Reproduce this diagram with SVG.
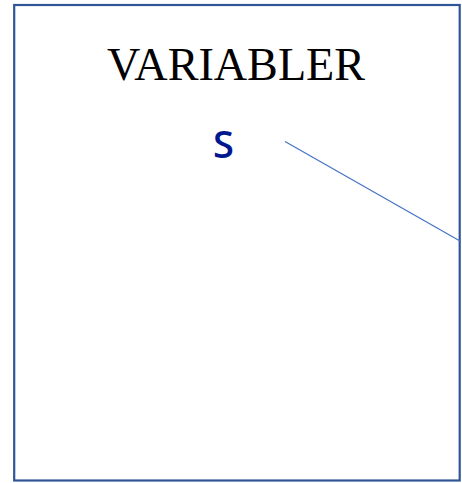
<svg xmlns="http://www.w3.org/2000/svg" width="462" height="483" viewBox="0 0 462 483">
<style>
.frame{fill:#ffffff;stroke:#2F5597;stroke-width:2.2}
.title{font-family:"Liberation Serif",serif;font-size:46px;fill:#000000}
.label{font-family:"Open Sans","DejaVu Sans",sans-serif;font-size:38px;font-weight:600;fill:#00188F}
.conn{stroke:#4472C4;stroke-width:1.2;fill:none}
</style>
<rect width="462" height="483" fill="#ffffff"/>
<g id="frame">
<rect class="frame" x="14.2" y="5" width="445.5" height="475.5"/>
<text class="title" x="236" y="80" text-anchor="middle" textLength="258" lengthAdjust="spacingAndGlyphs">VARIABLER</text>
</g>
<g id="node-s">
<text class="label" x="223.5" y="158" text-anchor="middle">S</text>
</g>
<g id="connectors">
<line class="conn" x1="285" y1="141.5" x2="460" y2="241"/>
</g>
</svg>
